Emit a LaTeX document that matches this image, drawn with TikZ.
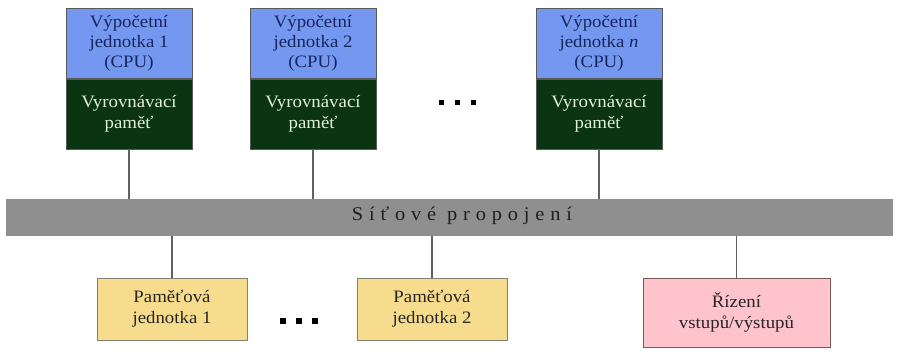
\documentclass[tikz,border=0pt]{standalone}
\usepackage{fontspec}
\setmainfont{Liberation Serif}[FakeStretch=1.08]
\newfontfamily\spacedfont{Liberation Serif}[LetterSpace=30,FakeStretch=1.05]
\definecolor{cpublue}{HTML}{7497EF}
\definecolor{cpuink}{HTML}{17265E}
\definecolor{cachegreen}{HTML}{0B3512}
\definecolor{cacheink}{HTML}{E2F0DA}
\definecolor{memyellow}{HTML}{F6DC8C}
\definecolor{ioping}{HTML}{FFC3CB}
\definecolor{busgray}{HTML}{8F8F8F}
\definecolor{wiregray}{HTML}{606060}
\tikzset{
  cpupart/.style={draw=gray!70!black, line width=0.6pt, fill=cpublue, text=cpuink,
    minimum width=126bp, minimum height=70bp, inner sep=0pt, align=center,
    font=\fontsize{17.5}{20}\selectfont},
  cachepart/.style={draw=gray!70!black, line width=0.6pt, fill=cachegreen, text=cacheink,
    minimum width=126bp, minimum height=70bp, inner sep=0pt, align=center,
    font=\fontsize{17.5}{21}\selectfont},
  membox/.style={draw=black!65!yellow!40!gray, line width=1pt, fill=memyellow, text=black!85,
    minimum width=150bp, minimum height=62bp, inner sep=0pt, align=center,
    font=\fontsize{17.5}{21}\selectfont},
  iobox/.style={draw=black!60!red!30!gray, line width=1pt, fill=ioping, text=black!85,
    minimum width=187bp, minimum height=69bp, inner sep=0pt, align=center,
    font=\fontsize{17.5}{21}\selectfont},
  wire/.style={draw=wiregray, line width=1.3pt},
  dotmark/.style={fill=black, minimum size=5bp, inner sep=0pt},
}
\begin{document}
\begin{tikzpicture}[x=1bp, y=-1bp]
\useasboundingbox (0,0) rectangle (897,356);
% processing units with their caches
\node[cpupart, anchor=north] (cpu1) at (129,8) {Výpočetní\\jednotka 1\\(CPU)};
\node[cachepart, anchor=north] (cache1) at (cpu1.south) {Vyrovnávací\\paměť};
\node[cpupart, anchor=north] (cpu2) at (313,8) {Výpočetní\\jednotka 2\\(CPU)};
\node[cachepart, anchor=north] (cache2) at (cpu2.south) {Vyrovnávací\\paměť};
\node[cpupart, anchor=north] (cpun) at (599,8) {Výpočetní\\jednotka \textit{n}\\(CPU)};
\node[cachepart, anchor=north] (cachen) at (cpun.south) {Vyrovnávací\\paměť};
% ellipsis between units
\node[dotmark] (td1) at (441,102) {};
\node[dotmark] (td2) at (457,102) {};
\node[dotmark] (td3) at (473,102) {};
% interconnect
\node[fill=busgray, minimum width=887bp, minimum height=37bp, inner sep=0pt] (bus) at (449.5,217.5) {};
\node[text=black!88, font=\spacedfont\fontsize{19.5}{22}\selectfont] (buslabel) at (462,216) {Síťové propojení};
% memory and I/O
\node[membox] (mem1) at (172,309) {Paměťová\\jednotka 1};
\node[membox] (mem2) at (432,309) {Paměťová\\jednotka 2};
\node[iobox] (io) at (736.5,312.5) {Řízení\\vstupů/výstupů};
\node[dotmark, minimum size=6bp] (bd1) at (283,321) {};
\node[dotmark, minimum size=6bp] (bd2) at (299,321) {};
\node[dotmark, minimum size=6bp] (bd3) at (315,321) {};
% connections to the interconnect
\draw[wire] (cache1.south) -- (cache1.south |- bus.north);
\draw[wire] (cache2.south) -- (cache2.south |- bus.north);
\draw[wire] (cachen.south) -- (cachen.south |- bus.north);
\draw[wire] (mem1.north) -- (mem1.north |- bus.south);
\draw[wire] (mem2.north) -- (mem2.north |- bus.south);
\draw[wire] (io.north) -- (io.north |- bus.south);
\end{tikzpicture}
\end{document}
